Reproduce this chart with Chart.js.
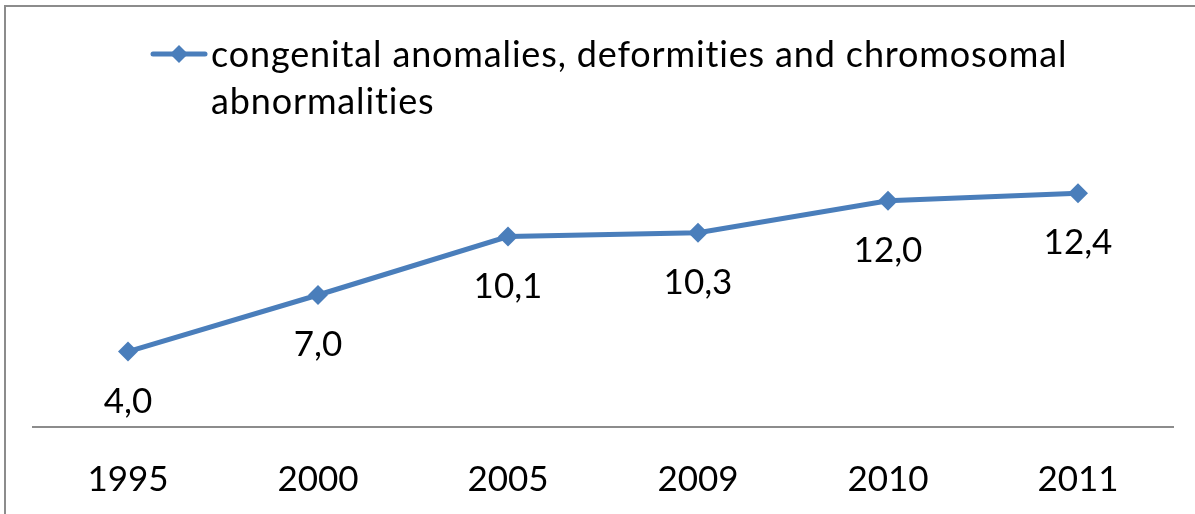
<!DOCTYPE html>
<html>
<head>
<meta charset="utf-8">
<script src="https://cdn.jsdelivr.net/npm/chart.js@4"></script>
<style>
  html, body { margin: 0; padding: 0; background: #fff; }
  #wrap { position: relative; width: 1195px; height: 514px; overflow: hidden; }
  #frame { position: absolute; left: 4px; top: 5px; width: 1300px; height: 600px;
           border-left: 2px solid #8c8c8c; border-top: 2px solid #8c8c8c; pointer-events: none; }
  canvas { position: absolute; left: 0; top: 0; }
</style>
</head>
<body>
<div id="wrap">
  <canvas id="chart" width="1195" height="514"></canvas>
  <div id="frame"></div>
</div>
<script>
// data
const years = ['1995', '2000', '2005', '2009', '2010', '2011'];
const anomalies = [4.0, 7.0, 10.1, 10.3, 12.0, 12.4];
const seriesName = ['congenital anomalies, deformities and chromosomal', 'abnormalities'];

const lineColor = '#4a7ebb';
const fontFamily = "Lato, 'Open Sans', sans-serif";

// values like 4,0 - comma decimal
function fmt(v) {
    return v.toFixed(1).replace('.', ',');
}

// labels under each point
const valueLabels = {
    id: 'valueLabels',
    afterDatasetsDraw(chart) {
        const ctx = chart.ctx;
        const meta = chart.getDatasetMeta(0);
        ctx.save();
        ctx.font = '35px ' + fontFamily;
        ctx.fillStyle = '#000';
        ctx.textAlign = 'center';
        ctx.textBaseline = 'middle';
        meta.data.forEach(function(pt, i) {
            ctx.fillText(fmt(anomalies[i]), pt.x, pt.y + 50);
        });
        ctx.restore();
    }
};

// legend with wrapped text, like the office chart
const wrapLegend = {
    id: 'wrapLegend',
    afterDraw(chart) {
        const ctx = chart.ctx;
        ctx.save();
        ctx.strokeStyle = lineColor;
        ctx.lineWidth = 5;
        ctx.lineCap = 'round';
        ctx.beginPath();
        ctx.moveTo(153, 54);
        ctx.lineTo(205, 54);
        ctx.stroke();
        ctx.fillStyle = lineColor;
        ctx.beginPath();
        ctx.moveTo(179, 45);
        ctx.lineTo(188, 54);
        ctx.lineTo(179, 63);
        ctx.lineTo(170, 54);
        ctx.closePath();
        ctx.fill();
        ctx.font = '36px ' + fontFamily;
        ctx.letterSpacing = '0.85px';
        ctx.fillStyle = '#000';
        ctx.textAlign = 'left';
        ctx.textBaseline = 'alphabetic';
        ctx.fillText(seriesName[0], 211, 67);
        ctx.fillText(seriesName[1], 211, 114);
        ctx.restore();
    }
};

new Chart(document.getElementById('chart').getContext('2d'), {
    type: 'line',
    data: {
        labels: years,
        datasets: [{
            label: seriesName.join(' '),
            data: anomalies,
            borderColor: lineColor,
            backgroundColor: lineColor,
            borderWidth: 5,
            tension: 0,
            fill: false,
            pointStyle: 'rectRot',
            pointRadius: 10,
            pointBorderWidth: 0
        }]
    },
    options: {
        responsive: false,
        animation: false,
        layout: {
            padding: { left: 33, right: 22, top: 163, bottom: -19 }
        },
        plugins: {
            legend: { display: false },
            tooltip: { enabled: false }
        },
        scales: {
            x: {
                offset: true,
                grid: { display: false, drawTicks: false },
                border: { display: true, color: '#8c8c8c', width: 2 },
                ticks: {
                    color: '#000',
                    padding: 32,
                    font: { family: fontFamily, size: 35 }
                }
            },
            y: {
                display: false,
                min: 0,
                max: 14
            }
        }
    },
    plugins: [valueLabels, wrapLegend]
});
</script>
</body>
</html>
